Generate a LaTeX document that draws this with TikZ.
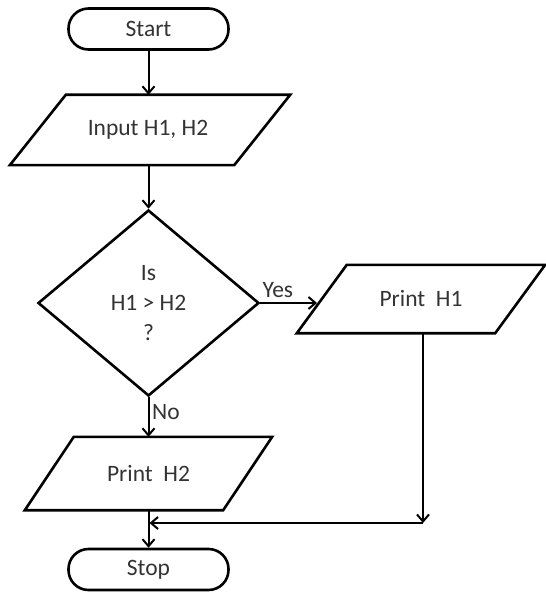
\documentclass[tikz,border=0pt]{standalone}
\usepackage{fontspec}
\setmainfont{Carlito}
\usetikzlibrary{arrows.meta,shapes.geometric}
\begin{document}
\begin{tikzpicture}[x=1pt,y=-1pt,
  every node/.style={font=\fontsize{23.5}{30}\selectfont, text=black!80},
  line/.style={line width=2.6pt, draw=black},
  conn/.style={line width=2pt, -{Straight Barb[length=7pt,width=12pt,line width=2pt]}},
  term/.style={line, rectangle, rounded corners=20pt, minimum width=160pt, minimum height=41pt}]
\useasboundingbox (0,0) rectangle (545,593);
\node[term] (start) at (148.5,29) {Start};
\node[minimum width=224pt, minimum height=70pt, inner sep=0pt] (input) at (150,130) {};
\node at (148,130) {Input H1, H2};
\draw[line] ([xshift=28pt]input.north west) -- ([xshift=28pt]input.north east)
  -- ([xshift=-28pt]input.south east) -- ([xshift=-28pt]input.south west) -- cycle;
\node[line, diamond, minimum width=221pt, minimum height=186pt, inner sep=0pt, align=center] (dec) at (148.5,303) {Is\\H1 > H2\\?};
\node[minimum width=198pt, minimum height=68pt, inner sep=0pt] (p1) at (421,299) {Print~~H1};
\draw[line] ([xshift=25pt]p1.north west) -- ([xshift=25pt]p1.north east)
  -- ([xshift=-25pt]p1.south east) -- ([xshift=-25pt]p1.south west) -- cycle;
\node[minimum width=198pt, minimum height=73pt, inner sep=0pt] (p2) at (148.5,473.5) {Print~~H2};
\draw[line] ([xshift=24.5pt]p2.north west) -- ([xshift=24.5pt]p2.north east)
  -- ([xshift=-24.5pt]p2.south east) -- ([xshift=-24.5pt]p2.south west) -- cycle;
\node[term] (stop) at (148.5,569.5) {Stop};
\coordinate (corner) at (423,523);
\coordinate (join) at (148.5,523);
\coordinate (yesend) at (317,303);
\draw[conn] (start.south) -- (input.north -| start.south);
\draw[conn] (input.south -| start.south) -- (dec.north);
\draw[conn] (dec.east) -- (yesend);
\node[anchor=south west, inner sep=1pt, yshift=4pt, xshift=1pt] (yes) at (dec.east) {Yes};
\draw[conn] (dec.south) -- (p2.north -| dec.south);
\node[anchor=west, inner sep=1pt] (no) at (151,412) {No};
\draw[conn] (p1.south -| corner) -- (corner);
\draw[conn] (corner) -- ([xshift=1pt]join);
\draw[conn] (p2.south -| stop.north) -- (stop.north);
\end{tikzpicture}
\end{document}
